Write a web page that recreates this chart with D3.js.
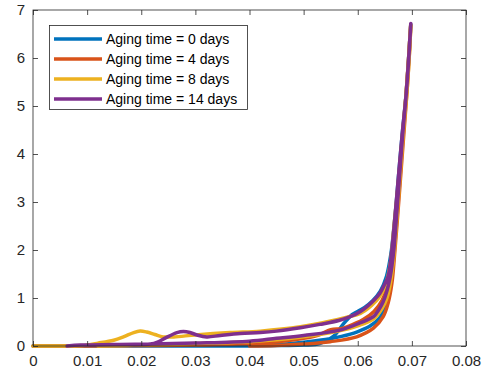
<!DOCTYPE html>
<html>
<head>
<meta charset="UTF-8" />
<title>Aging time</title>
<style>
  body { margin: 0; background: #fff; }
  .tick text { font: 15px "Liberation Sans", Arial, sans-serif; fill: #262626; }
  .legend text { font: 14px "Liberation Sans", Arial, sans-serif; fill: #000; }
  .curve { fill: none; stroke-width: 3.5px; stroke-linejoin: round; stroke-linecap: round; }
</style>
</head>
<body>
<div id="chart"></div>
<script src="https://d3js.org/d3.v7.min.js"></script>
<script>
// strain / stress pairs, loading branch then unloading branch
const aging0 = [
  [0, 0], [0.02, 0], [0.04, 0], [0.046, 0.01], [0.050, 0.02], [0.053, 0.05], [0.0555, 0.2],
  [0.0575, 0.48], [0.059, 0.66], [0.0598, 0.71], [0.0612, 0.8], [0.0628, 0.95], [0.0642, 1.15],
  [0.0653, 1.45], [0.0661, 1.9], [0.0668, 2.6], [0.0675, 3.5], [0.0682, 4.4], [0.0689, 5.2],
  [0.0694, 6.0], [0.0698, 6.7],
  [0.0695, 6.1], [0.069, 5.3], [0.0683, 4.4], [0.0677, 3.5], [0.0671, 2.6], [0.0666, 1.9],
  [0.0660, 1.25], [0.0652, 0.85], [0.0640, 0.58], [0.0622, 0.41], [0.0598, 0.29], [0.0570, 0.2],
  [0.0549, 0.15], [0.050, 0.08], [0.045, 0.03], [0.040, 0.01], [0.035, 0]
];
const aging4 = [
  [0, 0], [0.01, 0], [0.023, 0.01], [0.030, 0.02], [0.040, 0.05], [0.046, 0.1], [0.050, 0.16],
  [0.053, 0.24], [0.0545, 0.32], [0.0555, 0.35], [0.0568, 0.36], [0.058, 0.40], [0.061, 0.55],
  [0.063, 0.72], [0.0645, 0.95], [0.0655, 1.25], [0.0662, 1.7], [0.0668, 2.5], [0.0675, 3.4],
  [0.0682, 4.3], [0.0689, 5.2], [0.0694, 6.0], [0.0698, 6.7],
  [0.0696, 6.2], [0.0691, 5.3], [0.0685, 4.4], [0.0679, 3.5], [0.0673, 2.6], [0.0668, 1.9],
  [0.0663, 1.3], [0.0656, 0.89], [0.0647, 0.61], [0.0629, 0.37], [0.0598, 0.19], [0.0549, 0.09],
  [0.050, 0.04], [0.045, 0.01], [0.040, 0]
];
const aging8 = [
  [0, 0], [0.0063, 0], [0.009, 0.01], [0.012, 0.06], [0.0149, 0.12], [0.0167, 0.19],
  [0.0186, 0.28], [0.0198, 0.31], [0.021, 0.29], [0.0225, 0.24], [0.024, 0.19], [0.026, 0.19],
  [0.030, 0.23], [0.0364, 0.28], [0.042, 0.31], [0.0494, 0.40], [0.055, 0.52], [0.058, 0.60],
  [0.0605, 0.68], [0.0625, 0.84], [0.064, 1.02], [0.0652, 1.3], [0.066, 1.7], [0.0667, 2.5],
  [0.0675, 3.4], [0.0682, 4.3], [0.0689, 5.2], [0.0694, 6.0], [0.0698, 6.7],
  [0.0696, 6.2], [0.0691, 5.3], [0.0684, 4.4], [0.0678, 3.5], [0.0672, 2.6], [0.0667, 1.9],
  [0.0661, 1.35], [0.0654, 1.0], [0.0645, 0.78], [0.063, 0.57], [0.060, 0.42], [0.056, 0.3],
  [0.050, 0.19], [0.045, 0.13], [0.040, 0.09], [0.030, 0.05], [0.020, 0.02], [0.012, 0]
];
const aging14 = [
  [0.0063, 0], [0.0088, 0.02], [0.015, 0.03], [0.0217, 0.04], [0.023, 0.08], [0.0245, 0.17],
  [0.0266, 0.28], [0.0278, 0.3], [0.029, 0.28], [0.0303, 0.23], [0.0321, 0.19], [0.0346, 0.22],
  [0.0383, 0.26], [0.042, 0.28], [0.045, 0.31], [0.0494, 0.38], [0.053, 0.45], [0.0565, 0.53],
  [0.0586, 0.61], [0.0605, 0.72], [0.0617, 0.82], [0.0632, 0.98], [0.0641, 1.10], [0.0649, 1.27],
  [0.0656, 1.45], [0.0662, 1.9], [0.0668, 2.6], [0.0675, 3.5], [0.0682, 4.4], [0.0689, 5.2],
  [0.0694, 6.0], [0.0698, 6.72],
  [0.0696, 6.3], [0.069, 5.3], [0.0683, 4.4], [0.0677, 3.5], [0.0671, 2.6], [0.0666, 1.93],
  [0.066, 1.44], [0.0654, 1.15], [0.0647, 0.92], [0.0638, 0.74], [0.0629, 0.61], [0.0604, 0.48],
  [0.0567, 0.33], [0.050, 0.22], [0.045, 0.16], [0.040, 0.10], [0.030, 0.06], [0.0217, 0.04],
  [0.015, 0.03], [0.0088, 0.02], [0.0063, 0]
];

const seriesNames = ['Aging time = 0 days', 'Aging time = 4 days', 'Aging time = 8 days', 'Aging time = 14 days'];
const seriesColors = ['#0072BD', '#D95319', '#EDB120', '#7E2F8E'];
const seriesData = [aging0, aging4, aging8, aging14];
const xTicks = [0, 0.01, 0.02, 0.03, 0.04, 0.05, 0.06, 0.07, 0.08];
const yTicks = [0, 1, 2, 3, 4, 5, 6, 7];

const width = 482, height = 376;
const margin = { top: 10, right: 16, bottom: 30, left: 33 };

const svg = d3.select('#chart').append('svg')
  .attr('width', width)
  .attr('height', height);

const x = d3.scaleLinear().domain([0, 0.08]).range([margin.left, width - margin.right]);
const y = d3.scaleLinear().domain([0, 7]).range([height - margin.bottom, margin.top]);

const line = d3.line().x(d => x(d[0])).y(d => y(d[1])).curve(d3.curveCatmullRom.alpha(0.5));

svg.append('g')
  .selectAll('path')
  .data(seriesData)
  .enter().append('path')
  .attr('class', 'curve')
  .attr('stroke', (d, i) => seriesColors[i])
  .attr('d', line);

// axes, MATLAB style with inward ticks on all four sides
function styleAxis(g) {
  g.select('.domain').remove();
  g.selectAll('.tick line').attr('stroke', '#262626').attr('stroke-width', 0.8);
}

svg.append('g')
  .attr('transform', `translate(0,${height - margin.bottom})`)
  .call(d3.axisBottom(x).tickValues(xTicks).tickFormat(d => d === 0 ? '0' : d3.format('.2f')(d))
    .tickSizeInner(-5).tickSizeOuter(0).tickPadding(9))
  .call(styleAxis);

svg.append('g')
  .attr('transform', `translate(0,${margin.top})`)
  .call(d3.axisTop(x).tickValues(xTicks).tickFormat('').tickSizeInner(-5).tickSizeOuter(0))
  .call(styleAxis);

svg.append('g')
  .attr('transform', `translate(${margin.left},0)`)
  .call(d3.axisLeft(y).tickValues(yTicks).tickFormat(d3.format('d'))
    .tickSizeInner(-5).tickSizeOuter(0).tickPadding(8))
  .call(styleAxis);

svg.append('g')
  .attr('transform', `translate(${width - margin.right},0)`)
  .call(d3.axisRight(y).tickValues(yTicks).tickFormat('').tickSizeInner(-5).tickSizeOuter(0))
  .call(styleAxis);

svg.append('rect')
  .attr('x', margin.left)
  .attr('y', margin.top)
  .attr('width', width - margin.left - margin.right)
  .attr('height', height - margin.top - margin.bottom)
  .attr('fill', 'none')
  .attr('stroke', '#262626')
  .attr('stroke-width', 0.8);

// legend
const legend = svg.append('g').attr('class', 'legend');
legend.append('rect')
  .attr('x', 49.5).attr('y', 25.5)
  .attr('width', 198).attr('height', 84)
  .attr('fill', '#fff')
  .attr('stroke', '#262626')
  .attr('stroke-width', 0.8);

const item = legend.selectAll('g.item')
  .data(seriesNames)
  .enter().append('g')
  .attr('class', 'item')
  .attr('transform', (d, i) => `translate(0,${39 + i * 20})`);

item.append('line')
  .attr('x1', 54).attr('x2', 102)
  .attr('stroke', (d, i) => seriesColors[i])
  .attr('stroke-width', 3.5);

item.append('text')
  .attr('x', 106)
  .attr('dy', '0.35em')
  .text(d => d);
</script>
</body>
</html>
